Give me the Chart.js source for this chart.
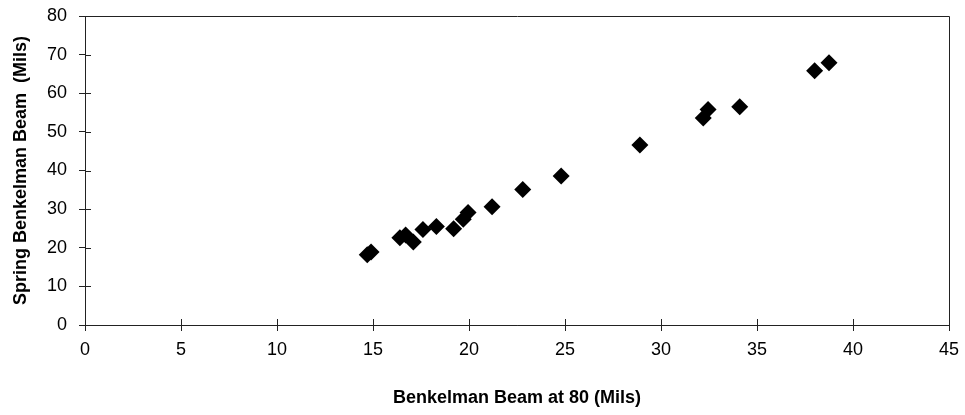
<!DOCTYPE html>
<html>
<head>
<meta charset="utf-8">
<script src="https://cdn.jsdelivr.net/npm/chart.js@4/dist/chart.umd.min.js"></script>
<style>
  html, body { margin: 0; padding: 0; background: #fff; }
  #wrap { width: 965px; height: 415px; }
</style>
</head>
<body>
<div id="wrap"><canvas id="c" width="965" height="415"></canvas></div>
<script>
// Deflection pairs: Benkelman Beam at 80 (x) vs Spring Benkelman Beam (y), in mils
const beamAt80 = [14.7, 14.9, 16.4, 16.7, 17.1, 17.6, 18.3, 19.2, 19.7, 19.95, 21.2, 22.8, 24.8, 28.9, 32.2, 32.45, 34.1, 38.0, 38.75];
const springBeam = [18.2, 18.9, 22.6, 23.3, 21.5, 24.7, 25.5, 24.9, 27.4, 29.1, 30.6, 35.1, 38.6, 46.6, 53.6, 55.8, 56.5, 65.8, 67.9];

const xTicks = [0, 5, 10, 15, 20, 25, 30, 35, 40, 45];
const yTicks = [0, 10, 20, 30, 40, 50, 60, 70, 80];

const points = beamAt80.map((x, i) => ({ x: x, y: springBeam[i] }));

const FONT = "'Liberation Sans', Arial, sans-serif";

// Frame around the plot and tick marks that cross the axis lines
const framePlugin = {
  id: 'frame',
  afterDatasetsDraw(chart) {
    const { ctx, chartArea: a, scales } = chart;
    ctx.save();
    ctx.strokeStyle = '#222';
    ctx.lineWidth = 1;
    ctx.beginPath();
    ctx.moveTo(a.left + 0.5, a.bottom + 0.5);
    ctx.lineTo(a.left + 0.5, a.top + 0.5);
    ctx.lineTo(a.right + 0.5, a.top + 0.5);
    ctx.lineTo(a.right + 0.5, a.bottom + 0.5);
    ctx.lineTo(a.left + 0.5, a.bottom + 0.5);
    // inner halves of the tick marks
    scales.x.ticks.forEach((t, i) => {
      const px = Math.round(scales.x.getPixelForTick(i)) + 0.5;
      ctx.moveTo(px, a.bottom);
      ctx.lineTo(px, a.bottom - 6);
    });
    scales.y.ticks.forEach((t, i) => {
      const py = Math.round(scales.y.getPixelForTick(i)) + 0.5;
      ctx.moveTo(a.left, py);
      ctx.lineTo(a.left + 6, py);
    });
    ctx.stroke();
    ctx.restore();
  }
};

new Chart(document.getElementById('c'), {
  type: 'scatter',
  data: {
    datasets: [{
      label: 'Spring Benkelman Beam',
      data: points,
      pointStyle: 'rectRot',
      pointRadius: 8.5,
      pointHoverRadius: 8.5,
      backgroundColor: '#000',
      borderColor: '#000',
      borderWidth: 0
    }]
  },
  options: {
    responsive: false,
    animation: false,
    layout: { padding: { top: 16, right: 16, left: 0, bottom: 0 } },
    plugins: { legend: { display: false }, tooltip: { enabled: false } },
    scales: {
      x: {
        type: 'linear',
        min: 0, max: 45,
        afterBuildTicks(scale) { scale.ticks = xTicks.map(v => ({ value: v })); },
        afterFit(scale) { scale.height = 90; scale.paddingLeft = 0; scale.paddingRight = 0; },
        grid: { drawOnChartArea: false, tickLength: 6, color: '#222', tickColor: '#222' },
        border: { display: true, color: '#222', width: 1 },
        ticks: { color: '#000', font: { family: FONT, size: 18 }, padding: 8, maxRotation: 0 },
        title: {
          display: true,
          text: 'Benkelman Beam at 80 (Mils)',
          color: '#000',
          font: { family: FONT, size: 18, weight: 'bold' },
          padding: { top: 13, bottom: 6 }
        }
      },
      y: {
        type: 'linear',
        min: 0, max: 80,
        afterBuildTicks(scale) { scale.ticks = yTicks.map(v => ({ value: v })); },
        afterFit(scale) { scale.width = 85; scale.paddingTop = 0; scale.paddingBottom = 0; },
        grid: { drawOnChartArea: false, tickLength: 6, color: '#222', tickColor: '#222' },
        border: { display: true, color: '#222', width: 1 },
        ticks: { color: '#000', font: { family: FONT, size: 18 }, padding: 12 },
        title: {
          display: true,
          text: 'Spring Benkelman Beam  (Mils)',
          color: '#000',
          font: { family: FONT, size: 18, weight: 'bold' },
          padding: { top: 10, bottom: 0 }
        }
      }
    }
  },
  plugins: [framePlugin]
});
</script>
</body>
</html>
